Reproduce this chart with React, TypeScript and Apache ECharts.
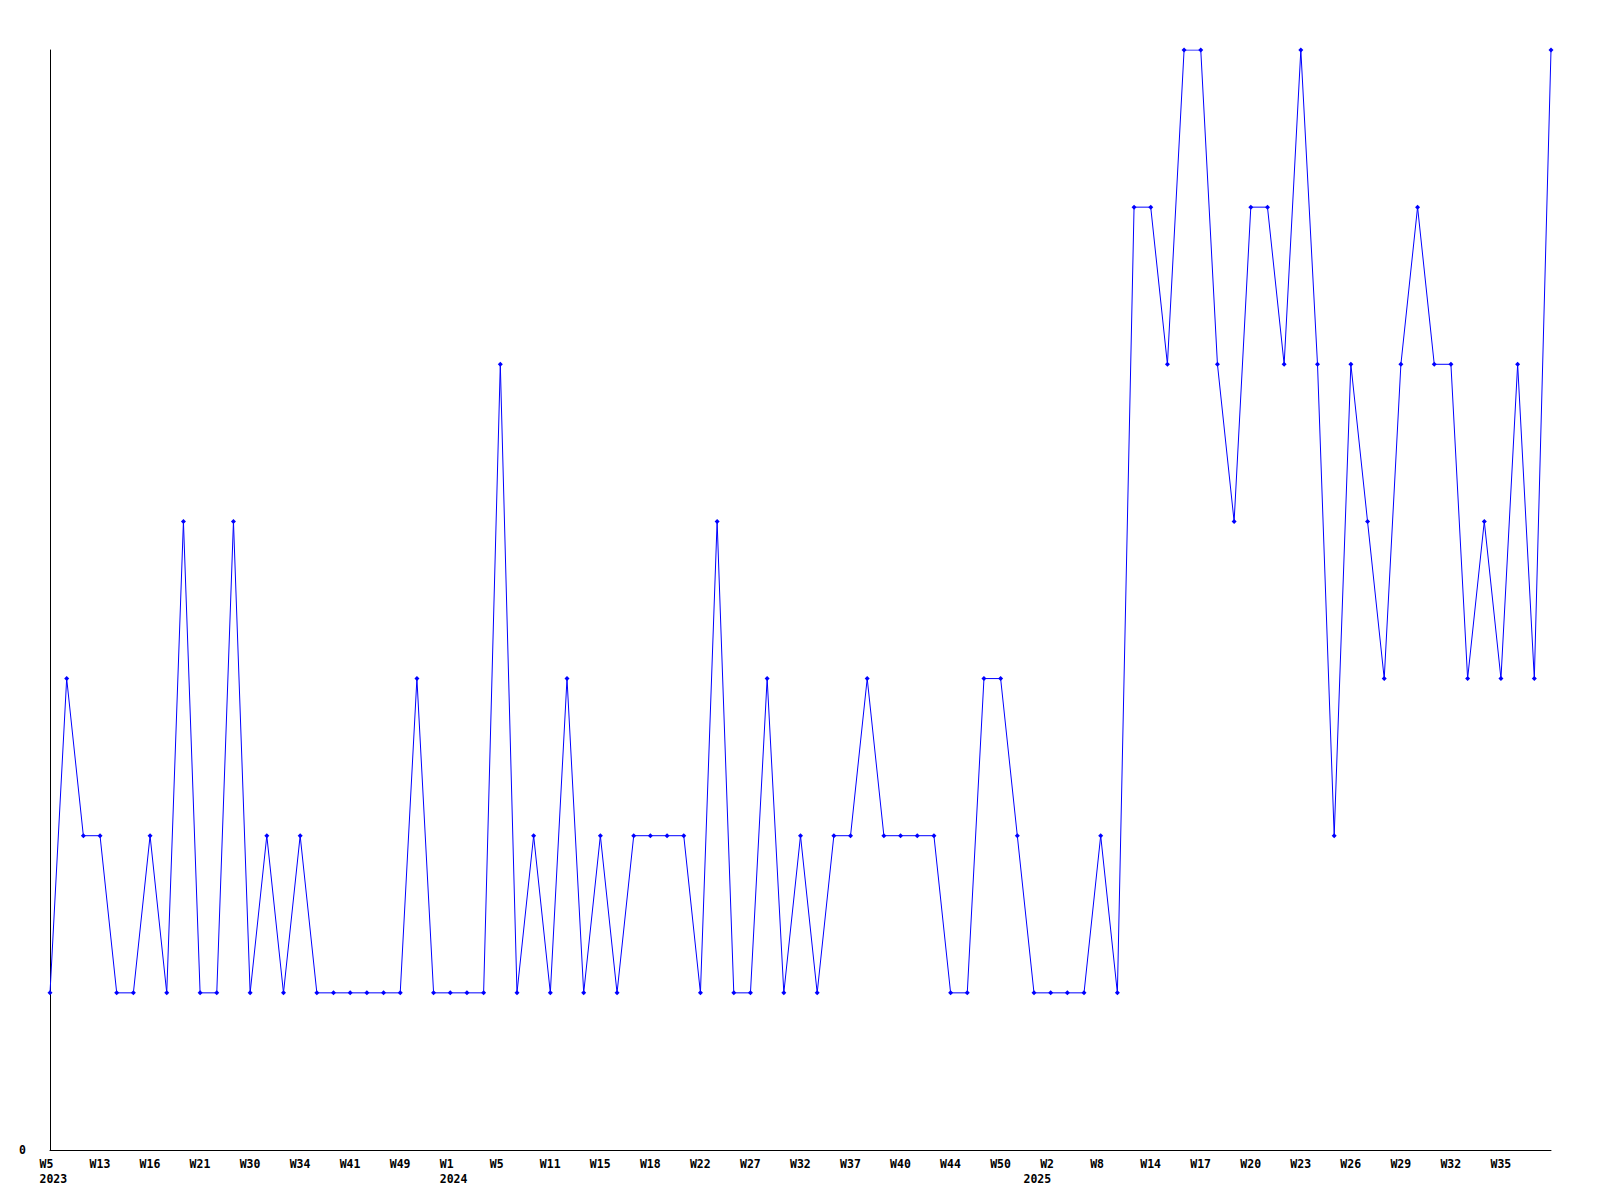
import React, { useEffect, useRef } from "react";
import * as echarts from "echarts";

// Week categories (one per data point, irregular sampling)
const weeks: string[] = [
  "W5", "W8", "W10", "W13", "W14", "W15", "W16", "W18", "W19", "W21",
  "W24", "W27", "W30", "W31", "W33", "W34", "W36", "W39", "W41", "W43",
  "W46", "W49", "W50", "W52", "W1", "W2", "W3", "W5", "W7", "W9",
  "W11", "W12", "W14", "W15", "W16", "W17", "W18", "W19", "W20", "W22",
  "W24", "W26", "W27", "W29", "W31", "W32", "W34", "W35", "W37", "W38",
  "W39", "W40", "W41", "W43", "W44", "W46", "W48", "W50", "W51", "W1",
  "W2", "W4", "W6", "W8", "W10", "W12", "W14", "W15", "W16", "W17",
  "W18", "W19", "W20", "W21", "W22", "W23", "W24", "W25", "W26", "W27",
  "W28", "W29", "W30", "W31", "W32", "W33", "W34", "W35", "W36", "W37",
  "W38",
];

// Year labels shown on a second line, by category index
const yearIndex: number[] = [0, 24, 59];
const yearText: string[] = ["2023", "2024", "2025"];

// Series values
const values: number[] = [
  1, 3, 2, 2, 1, 1, 2, 1, 4, 1,
  1, 4, 1, 2, 1, 2, 1, 1, 1, 1,
  1, 1, 3, 1, 1, 1, 1, 5, 1, 2,
  1, 3, 1, 2, 1, 2, 2, 2, 2, 1,
  4, 1, 1, 3, 1, 2, 1, 2, 2, 3,
  2, 2, 2, 2, 1, 1, 3, 3, 2, 1,
  1, 1, 1, 2, 1, 6, 6, 5, 7, 7,
  5, 4, 6, 6, 5, 7, 5, 2, 5, 4,
  3, 5, 6, 5, 5, 3, 4, 3, 5, 3,
  7,
];

const FONT = "DejaVu Sans Mono";

export default function App() {
  const ref = useRef<HTMLDivElement>(null);

  useEffect(() => {
    if (!ref.current) return;
    const chart = echarts.init(ref.current, undefined, { renderer: "svg" });
    const option: any = {
      animation: false,
      backgroundColor: "#ffffff",
      grid: { left: 50, right: 49, top: 50, bottom: 50, containLabel: false },
      xAxis: {
        type: "category",
        data: weeks,
        boundaryGap: false,
        axisLine: { show: true, lineStyle: { color: "#000000", width: 1 } },
        axisTick: { show: false },
        splitLine: { show: false },
        axisLabel: {
          interval: (index: number) => (index % 3 === 0 && index < 90) || index === 59,
          hideOverlap: false,
          align: "center",
          margin: 6,
          formatter: (value: string, index: number) => {
            const yi = yearIndex.indexOf(index);
            const w = index === 59 ? " " : value;
            if (yi >= 0) return `{a|${w}}\n{a|${yearText[yi]}}`;
            return `{a|${w}}`;
          },
          rich: {
            a: {
              width: 21,
              align: "left",
              fontFamily: FONT,
              fontSize: 11.5,
              fontWeight: "bold",
              lineHeight: 15,
              color: "#000000",
            },
          },
        },
      },
      yAxis: {
        type: "value",
        min: 0,
        max: 7,
        interval: 7,
        axisLine: { show: true, lineStyle: { color: "#000000", width: 1 } },
        axisTick: { show: false },
        splitLine: { show: false },
        axisLabel: {
          margin: 24,
          fontFamily: FONT,
          fontSize: 11.5,
          fontWeight: "bold",
          color: "#000000",
          formatter: (v: number) => (v === 0 ? "0" : ""),
        },
      },
      series: [
        {
          type: "line",
          data: values,
          symbol: "diamond",
          symbolSize: 5,
          showAllSymbol: true,
          lineStyle: { color: "#0000ff", width: 1 },
          itemStyle: { color: "#0000ff" },
        },
      ],
    };
    chart.setOption(option);
    return () => chart.dispose();
  }, []);

  return (
    <div
      ref={ref}
      style={{ position: "absolute", left: 0, top: 0, width: 1600, height: 1200 }}
    />
  );
}
